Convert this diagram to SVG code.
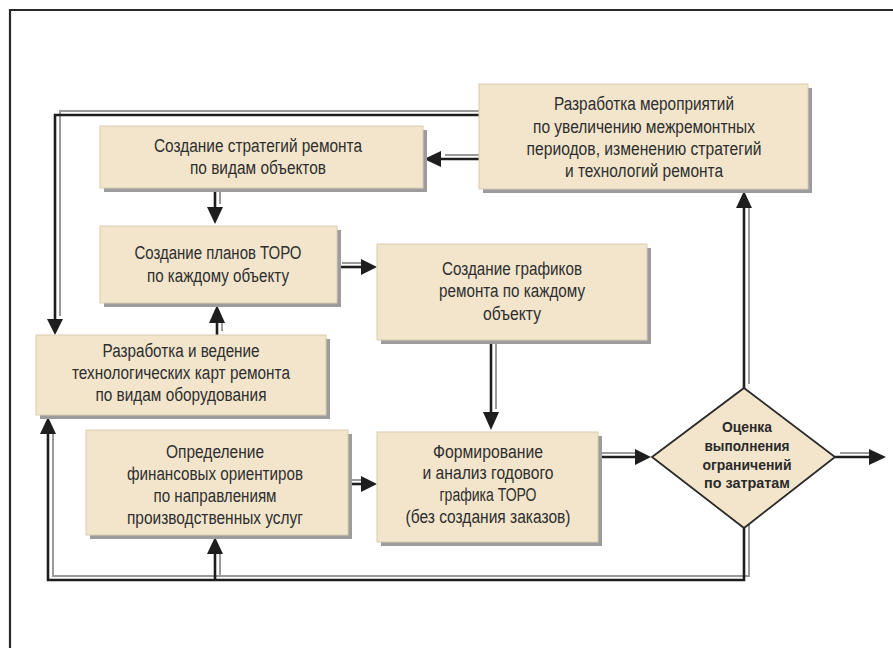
<svg xmlns="http://www.w3.org/2000/svg" width="893" height="648" viewBox="0 0 893 648">
<style>
.bx{fill:#F2E5CC;stroke:#d9ccb2;stroke-width:1}
.sh{fill:#9c9c9c}
.t{font-family:"Liberation Sans",Arial,sans-serif;font-size:18px;fill:#2e2e2e;text-anchor:middle}
.tb{font-family:"Liberation Sans",Arial,sans-serif;font-size:14px;font-weight:bold;fill:#2a2a2a;text-anchor:middle}
.k{fill:none;stroke:#1e1e1e;stroke-width:2.6}
.g{fill:none;stroke:#9a9a9a;stroke-width:2}
.ah{fill:#1e1e1e}
</style>
<rect width="893" height="648" fill="#ffffff"/>
<g id="frame"><path d="M10,648 V10 H893" fill="none" stroke="#2a2a2a" stroke-width="2.2"/></g>

<g id="connectors">
  <g transform="translate(5,-4)">
    <path class="g" d="M479,115 H55 V320"/>
    <path class="g" d="M479,159 H440"/>
    <path class="g" d="M215,188 V208"/>
    <path class="g" d="M337,267 H362"/>
    <path class="g" d="M217,335 V322"/>
    <path class="g" d="M491,340 V413"/>
    <path class="g" d="M337,484 H362"/>
    <path class="g" d="M595,457 H636"/>
    <path class="g" d="M835,457 H870"/>
    <path class="g" d="M744,388 V207"/>
    <path class="g" d="M744,528 V580 H48 V433"/>
    <path class="g" d="M215,580 V553"/>
  </g>
  <path class="k" d="M479,115 H55 V320"/>
  <polygon class="ah" points="47,319 63,319 55,335"/>
  <path class="k" d="M479,159 H440"/>
  <polygon class="ah" points="441,151 441,167 424,159"/>
  <path class="k" d="M215,188 V208"/>
  <polygon class="ah" points="207,207 223,207 215,224"/>
  <path class="k" d="M337,267 H362"/>
  <polygon class="ah" points="361,259 361,275 377,267"/>
  <path class="k" d="M217,335 V322"/>
  <polygon class="ah" points="209,323 225,323 217,305"/>
  <path class="k" d="M491,340 V413"/>
  <polygon class="ah" points="483,412 499,412 491,430"/>
  <path class="k" d="M337,484 H362"/>
  <polygon class="ah" points="361,476 361,492 377,484"/>
  <path class="k" d="M595,457 H636"/>
  <polygon class="ah" points="635,449 635,465 651,457"/>
  <path class="k" d="M835,457 H870"/>
  <polygon class="ah" points="869,449 869,465 886,457"/>
  <path class="k" d="M744,388 V207"/>
  <polygon class="ah" points="736,208 752,208 744,191"/>
  <path class="k" d="M744,528 V580 H48 V433"/>
  <polygon class="ah" points="40,434 56,434 48,417"/>
  <path class="k" d="M215,580 V553"/>
  <polygon class="ah" points="207,554 223,554 215,537"/>
</g>

<g id="n_strategii">
  <rect class="sh" x="104" y="130" width="323" height="62"/>
  <rect class="bx" x="100" y="126" width="323" height="62"/>
  <text class="t" x="258" y="152" textLength="208" lengthAdjust="spacingAndGlyphs">Создание стратегий ремонта</text>
  <text class="t" x="258" y="174" textLength="136" lengthAdjust="spacingAndGlyphs">по видам объектов</text>
</g>

<g id="n_meropriyatiya">
  <rect class="sh" x="483" y="88" width="329" height="105"/>
  <rect class="bx" x="479" y="84" width="329" height="105"/>
  <text class="t" x="644" y="110" textLength="180" lengthAdjust="spacingAndGlyphs">Разработка мероприятий</text>
  <text class="t" x="644" y="133" textLength="222" lengthAdjust="spacingAndGlyphs">по увеличению межремонтных</text>
  <text class="t" x="644" y="155" textLength="235" lengthAdjust="spacingAndGlyphs">периодов, изменению стратегий</text>
  <text class="t" x="644" y="177" textLength="158" lengthAdjust="spacingAndGlyphs">и технологий ремонта</text>
</g>

<g id="n_plany">
  <rect class="sh" x="104" y="230" width="237" height="77"/>
  <rect class="bx" x="100" y="226" width="237" height="77"/>
  <text class="t" x="218" y="259" textLength="167" lengthAdjust="spacingAndGlyphs">Создание планов ТОРО</text>
  <text class="t" x="218" y="282" textLength="142" lengthAdjust="spacingAndGlyphs">по каждому объекту</text>
</g>

<g id="n_grafiki">
  <rect class="sh" x="381" y="248" width="270" height="96"/>
  <rect class="bx" x="377" y="244" width="270" height="96"/>
  <text class="t" x="512" y="275" textLength="140" lengthAdjust="spacingAndGlyphs">Создание графиков</text>
  <text class="t" x="512" y="297" textLength="146" lengthAdjust="spacingAndGlyphs">ремонта по каждому</text>
  <text class="t" x="512" y="320" textLength="58" lengthAdjust="spacingAndGlyphs">объекту</text>
</g>

<g id="n_tekhkarty">
  <rect class="sh" x="40" y="339" width="290" height="80"/>
  <rect class="bx" x="36" y="335" width="290" height="80"/>
  <text class="t" x="181" y="357" textLength="157" lengthAdjust="spacingAndGlyphs">Разработка и ведение</text>
  <text class="t" x="181" y="379" textLength="218" lengthAdjust="spacingAndGlyphs">технологических карт ремонта</text>
  <text class="t" x="181" y="401" textLength="171" lengthAdjust="spacingAndGlyphs">по видам оборудования</text>
</g>

<g id="n_finansy">
  <rect class="sh" x="90" y="434" width="262" height="105"/>
  <rect class="bx" x="86" y="430" width="262" height="105"/>
  <text class="t" x="215" y="458" textLength="98" lengthAdjust="spacingAndGlyphs">Определение</text>
  <text class="t" x="215" y="480" textLength="176" lengthAdjust="spacingAndGlyphs">финансовых ориентиров</text>
  <text class="t" x="215" y="502" textLength="123" lengthAdjust="spacingAndGlyphs">по направлениям</text>
  <text class="t" x="215" y="524" textLength="176" lengthAdjust="spacingAndGlyphs">производственных услуг</text>
</g>

<g id="n_formirovanie">
  <rect class="sh" x="381" y="436" width="221" height="110"/>
  <rect class="bx" x="377" y="432" width="221" height="110"/>
  <text class="t" x="488" y="458" textLength="110" lengthAdjust="spacingAndGlyphs">Формирование</text>
  <text class="t" x="488" y="479" textLength="131" lengthAdjust="spacingAndGlyphs">и анализ годового</text>
  <text class="t" x="488" y="501" textLength="97" lengthAdjust="spacingAndGlyphs">графика ТОРО</text>
  <text class="t" x="488" y="523" textLength="165" lengthAdjust="spacingAndGlyphs">(без создания заказов)</text>
</g>

<g id="n_otsenka">
  <polygon points="744,388 835,457 744,528 652,457" fill="#F2E5CC" stroke="#2a2a2a" stroke-width="1.8"/>
  <text class="tb" x="747" y="432" textLength="50" lengthAdjust="spacingAndGlyphs">Оценка</text>
  <text class="tb" x="747" y="451" textLength="85" lengthAdjust="spacingAndGlyphs">выполнения</text>
  <text class="tb" x="747" y="470" textLength="89" lengthAdjust="spacingAndGlyphs">ограничений</text>
  <text class="tb" x="747" y="488" textLength="86" lengthAdjust="spacingAndGlyphs">по затратам</text>
</g>
</svg>
